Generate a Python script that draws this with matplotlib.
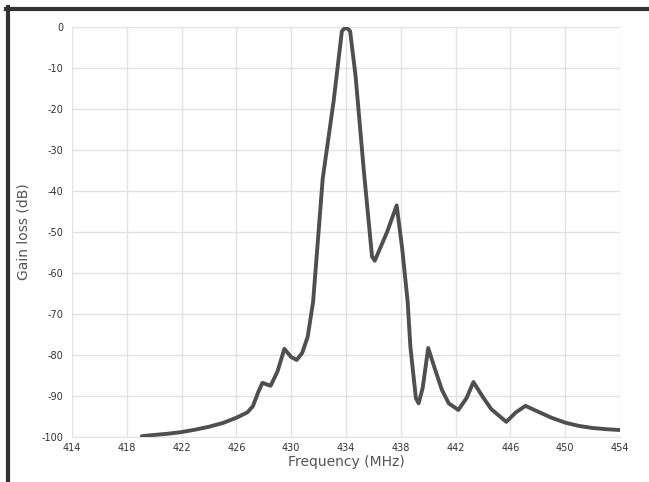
import numpy as np
import matplotlib
matplotlib.use('Agg')
import matplotlib.pyplot as plt
from matplotlib.lines import Line2D
plt.rcParams['axes.unicode_minus'] = False

# values
freq = [419.1, 420, 421, 422, 423, 424, 425, 426, 426.8, 427.2, 427.6, 427.9,
        428.5, 429, 429.5, 430, 430.4, 430.8, 431.2, 431.6, 432.3,
        433.1, 433.7, 434.0, 434.3, 434.7, 435.3, 435.9, 436.1, 437, 437.7,
        438.1, 438.5, 438.7, 439.1, 439.3, 439.6, 440.0, 440.5, 441, 441.5,
        442.2, 442.8, 443.3, 444, 444.6, 445.7, 446.4, 447.1, 448, 449, 450,
        451, 452, 453, 454]
gain = [-99.8, -99.5, -99.2, -98.8, -98.2, -97.5, -96.6, -95.3, -94, -92.5, -89, -86.8,
        -87.5, -84, -78.5, -80.5, -81.2, -79.5, -75.6, -67, -37,
        -18, -1, 0, -1, -12, -35, -56, -57, -50, -43.5,
        -54, -67, -78, -90.5, -91.8, -88, -78.3, -83.5, -88.5, -91.8,
        -93.4, -90.5, -86.6, -90.3, -93.2, -96.3, -94, -92.4, -93.8, -95.3, -96.5,
        -97.3, -97.8, -98.1, -98.3]
xticks = [414, 418, 422, 426, 430, 434, 438, 442, 446, 450, 454]
yticks = [0, -10, -20, -30, -40, -50, -60, -70, -80, -90, -100]

fig = plt.figure(figsize=(6.49, 4.82), dpi=100)
ax = fig.add_axes([72/649, 45/482, 548/649, 410/482])

ax.plot(freq, gain, color='#4f4f4f', lw=2.8, solid_joinstyle='round',
        solid_capstyle='round', zorder=3)

ax.set_xlim(414, 454)
ax.set_ylim(-100, 0)
ax.set_xticks(xticks)
ax.set_yticks(yticks)
ax.grid(True, color='#e2e2e2', lw=1.0)
ax.tick_params(length=0, labelsize=7, colors='#333333', pad=6)
ax.tick_params(axis='x', pad=4)
for s in ax.spines.values():
    s.set_color('#e2e2e2')
ax.spines['top'].set_visible(False)
ax.spines['right'].set_visible(False)
ax.spines['left'].set_visible(False)

ax.set_xlabel('Frequency (MHz)', fontsize=10, color='#555555', labelpad=2)
ax.set_ylabel('Gain loss (dB)', fontsize=10, color='#555555', labelpad=8)

# dark frame on left and top of the picture
fig.add_artist(Line2D([7.5/649, 7.5/649], [0, 1-7/482], color='#333333', lw=3,
                      transform=fig.transFigure))
fig.add_artist(Line2D([6/649, 1], [1-8.5/482, 1-8.5/482], color='#333333', lw=3,
                      transform=fig.transFigure))

fig.savefig('out.png', dpi=100)
